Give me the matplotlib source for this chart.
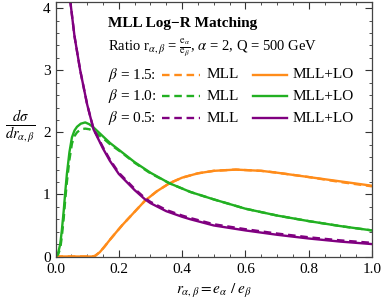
import numpy as np
import matplotlib
matplotlib.use('Agg')
import matplotlib.pyplot as plt
from matplotlib.ticker import MultipleLocator

plt.rcParams['font.family'] = 'Liberation Serif'
plt.rcParams['mathtext.fontset'] = 'stix'

# data (x = r, y = dsigma/dr)
x_orange = [0.0, 0.115, 0.125, 0.14, 0.155, 0.172, 0.19, 0.21, 0.25, 0.283, 0.32, 0.36, 0.4, 0.45, 0.5, 0.57, 0.65, 0.7, 0.8, 0.9, 1.0]
y_orange_lo = [0.0, 0.0, 0.01, 0.07, 0.16, 0.27, 0.38, 0.5, 0.72, 0.9, 1.05, 1.18, 1.27, 1.34, 1.38, 1.40, 1.38, 1.35, 1.28, 1.21, 1.14]
y_orange_mll = [0.0, 0.0, 0.01, 0.07, 0.16, 0.27, 0.38, 0.5, 0.72, 0.9, 1.05, 1.18, 1.27, 1.34, 1.38, 1.40, 1.38, 1.35, 1.28, 1.20, 1.13]

x_green = [0.0, 0.008, 0.015, 0.02, 0.026, 0.031, 0.036, 0.044, 0.052, 0.06, 0.068, 0.08, 0.094, 0.107, 0.12, 0.147, 0.172, 0.205, 0.25, 0.3, 0.36, 0.426, 0.5, 0.6, 0.7, 0.8, 0.9, 1.0]
y_green_lo = [0.0, 0.05, 0.2, 0.42, 0.74, 1.05, 1.33, 1.68, 1.92, 2.03, 2.09, 2.14, 2.16, 2.13, 2.08, 1.95, 1.83, 1.70, 1.52, 1.35, 1.18, 1.04, 0.92, 0.77, 0.66, 0.57, 0.49, 0.42]
y_green_mll = [0.0, 0.03, 0.13, 0.32, 0.62, 0.93, 1.2, 1.56, 1.82, 1.94, 2.0, 2.05, 2.06, 2.05, 2.02, 1.92, 1.81, 1.69, 1.51, 1.34, 1.18, 1.04, 0.92, 0.77, 0.66, 0.57, 0.49, 0.42]

x_purple = [0.03, 0.047, 0.06, 0.078, 0.1, 0.12, 0.15, 0.172, 0.2, 0.25, 0.283, 0.3, 0.35, 0.4, 0.426, 0.5, 0.6, 0.7, 0.8, 0.9, 1.0]
y_purple_lo = [5.2, 4.1, 3.55, 3.0, 2.45, 2.05, 1.74, 1.54, 1.33, 1.07, 0.92, 0.86, 0.73, 0.64, 0.6, 0.5, 0.42, 0.35, 0.29, 0.24, 0.2]
y_purple_mll = [5.2, 4.1, 3.55, 3.0, 2.45, 2.06, 1.76, 1.56, 1.35, 1.09, 0.94, 0.88, 0.75, 0.66, 0.62, 0.52, 0.44, 0.37, 0.31, 0.26, 0.22]

c_orange = '#ff8c1a'
c_green = '#22b022'
c_purple = '#800080'

fig = plt.figure(figsize=(3.82, 3.0), dpi=100)
ax = fig.add_axes([55.5/382, 1-256.5/300, 316.5/382, 254.5/300])

lw = 1.7
dash = (0, (3.2, 2.0))
ax.plot(x_orange, y_orange_lo, color=c_orange, lw=lw)
ax.plot(x_orange, y_orange_mll, color=c_orange, lw=lw, ls=dash)
ax.plot(x_green, y_green_lo, color=c_green, lw=lw)
ax.plot(x_green, y_green_mll, color=c_green, lw=lw, ls=dash)
ax.plot(x_purple, y_purple_lo, color=c_purple, lw=lw)
ax.plot(x_purple, y_purple_mll, color=c_purple, lw=lw, ls=dash)

ax.set_xlim(0, 1)
ax.set_ylim(0, 4.1)
ax.xaxis.set_major_locator(MultipleLocator(0.2))
ax.xaxis.set_minor_locator(MultipleLocator(0.05))
ax.yaxis.set_major_locator(MultipleLocator(1))
ax.yaxis.set_minor_locator(MultipleLocator(0.2))
ax.xaxis.set_major_formatter(plt.FuncFormatter(lambda v, p: '%.1f' % v))
ax.tick_params(which='both', direction='in', top=True, right=True, labelsize=11, colors='#333333', labelcolor='black')
ax.tick_params(which='major', length=5, width=0.8)
ax.tick_params(axis='x', which='major', pad=5)
ax.tick_params(which='minor', length=2.5, width=0.6)
for s in ax.spines.values():
    s.set_color('#444444')
    s.set_linewidth(0.9)

ax.set_xlabel(r'$r_{\alpha,\beta} = e_\alpha\ /\ e_\beta$', fontsize=11, labelpad=4)
fig.text(20/382, 1-127/300, r'$\frac{d\sigma}{dr_{\alpha,\beta}}$', fontsize=15, ha='center', va='center')

# title and legend inside the axes
def ax_x(px):
    return (px - 55.5) / 316.5

def ax_y(py):
    return (256.5 - py) / 254.5

ax.text(ax_x(108), ax_y(23), 'MLL Log\u2212R Matching', fontsize=11, fontweight='bold', transform=ax.transAxes, va='center')
ax.text(ax_x(108), ax_y(48), r'Ratio r$_{\alpha,\beta}$ = $\frac{\mathrm{e}_\alpha}{\mathrm{e}_\beta}$, $\alpha$ = 2, Q = 500 GeV',
        fontsize=10.5, transform=ax.transAxes, va='center')

betas = ['1.5', '1.0', '0.5']
colors = [c_orange, c_green, c_purple]
rows = [75, 96, 118]
for b, c, r in zip(betas, colors, rows):
    yy = ax_y(r)
    ax.text(ax_x(108), yy, r'$\beta$ = ' + b + ':', fontsize=11, transform=ax.transAxes, va='center')
    ax.plot([ax_x(162), ax_x(200)], [yy, yy], color=c, lw=lw, ls=dash, transform=ax.transAxes, clip_on=False)
    ax.text(ax_x(207), yy, 'MLL', fontsize=11, transform=ax.transAxes, va='center')
    ax.plot([ax_x(253), ax_x(287)], [yy, yy], color=c, lw=lw, transform=ax.transAxes, clip_on=False)
    ax.text(ax_x(293), yy, 'MLL+LO', fontsize=11, transform=ax.transAxes, va='center')

fig.savefig('out.png', dpi=100)
